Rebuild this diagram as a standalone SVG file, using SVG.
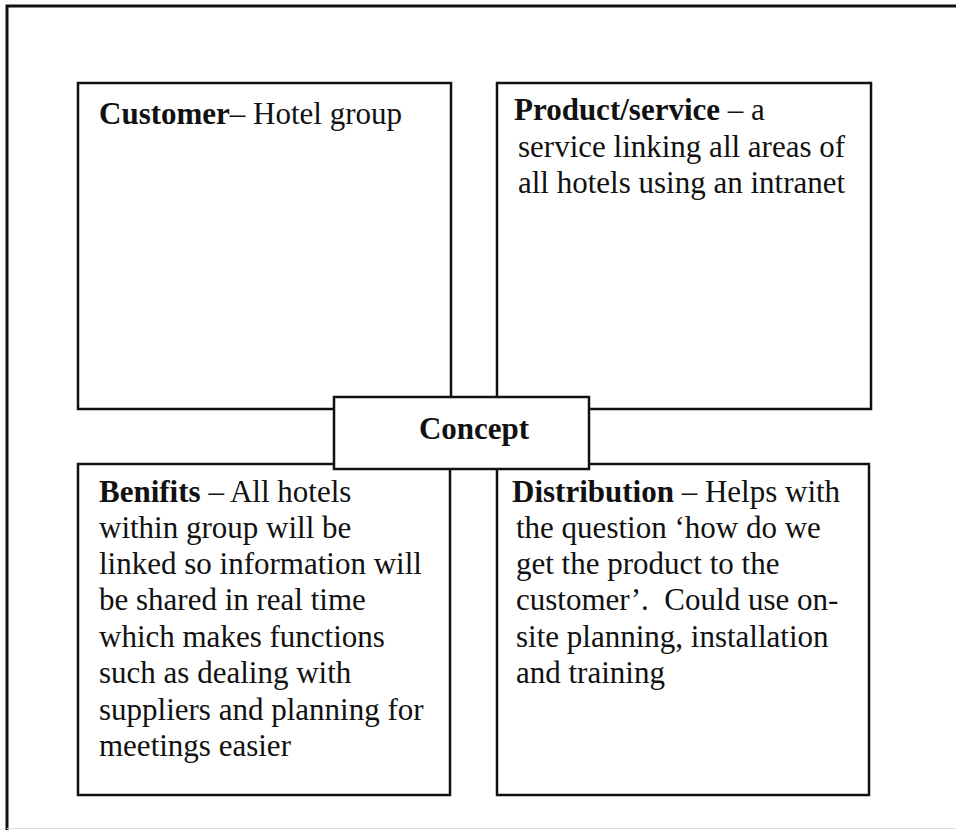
<svg xmlns="http://www.w3.org/2000/svg" width="956" height="830" viewBox="0 0 956 830">
<style>
.box{fill:#fff;stroke:#111;stroke-width:2.5}
.t{font-family:"Liberation Serif","Times New Roman",serif;font-size:31px;fill:#111}
.b{font-weight:bold}
</style>
<rect x="0" y="0" width="956" height="830" fill="#fff"/>
<path d="M7,830 V6 H956" fill="none" stroke="#111" stroke-width="3"/>
<line x1="7" y1="828.5" x2="956" y2="828.5" stroke="#ddd" stroke-width="1"/>
<g id="customer">
<rect class="box" x="78" y="83" width="373" height="326"/>
<text class="t" x="99" y="124"><tspan class="b">Customer</tspan>– Hotel group</text>
</g>
<g id="product">
<rect class="box" x="497" y="83" width="374" height="326"/>
<text class="t" x="514" y="120"><tspan class="b">Product/service</tspan> – a</text>
<text class="t" x="518" y="157">service linking all areas of</text>
<text class="t" x="518" y="193">all hotels using an intranet</text>
</g>
<g id="benefits">
<rect class="box" x="78" y="464" width="372" height="331"/>
<text class="t" x="99" y="502"><tspan class="b">Benifits</tspan> – All hotels</text>
<text class="t" x="99" y="538">within group will be</text>
<text class="t" x="99" y="574">linked so information will</text>
<text class="t" x="99" y="610">be shared in real time</text>
<text class="t" x="99" y="647">which makes functions</text>
<text class="t" x="99" y="683">such as dealing with</text>
<text class="t" x="99" y="720">suppliers and planning for</text>
<text class="t" x="99" y="756">meetings easier</text>
</g>
<g id="distribution">
<rect class="box" x="497" y="464" width="372" height="331"/>
<text class="t" x="512" y="502"><tspan class="b">Distribution</tspan> – Helps with</text>
<text class="t" x="516" y="538">the question ‘how do we</text>
<text class="t" x="516" y="574">get the product to the</text>
<text class="t" x="516" y="610" xml:space="preserve">customer’.  Could use on-</text>
<text class="t" x="516" y="647">site planning, installation</text>
<text class="t" x="516" y="683">and training</text>
</g>
<g id="connectors"></g>
<g id="concept">
<rect class="box" x="334" y="397" width="255" height="72"/>
<text class="t b" x="474" y="439" text-anchor="middle">Concept</text>
</g>
</svg>
